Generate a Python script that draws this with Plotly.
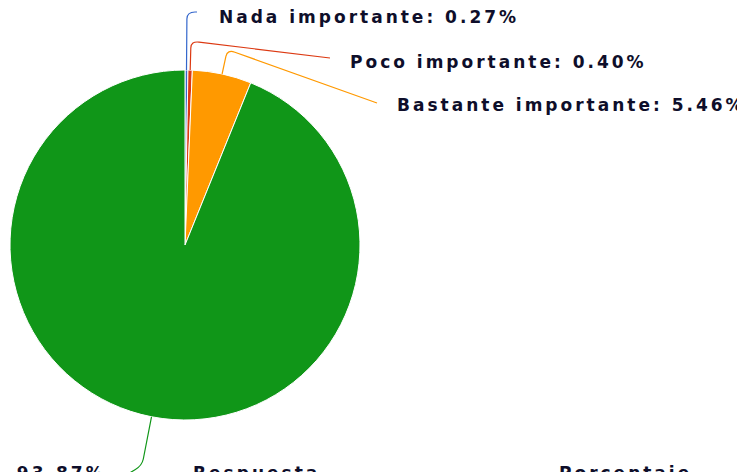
import math
import plotly.graph_objects as go

# ---- data ----
labels = ["Nada importante", "Poco importante", "Bastante importante", "Muy importante"]
percent = [0.27, 0.40, 5.46, 93.87]
colors = ["#3366cc", "#dc3912", "#ff9900", "#109618"]
header_labels = ["Respuesta", "Porcentaje"]

WIN_W, WIN_H = 745, 472
OFF = 8                      # page body margin of the browser
W, H = WIN_W - OFF, WIN_H - OFF

# pie geometry, in window pixels
cx, cy, R = 185.0, 245.0, 175.0

# label layout: (radial extension of leader, leader end point, text x, text y, anchor)
label_layout = [
    (58, (197, 12), 217, 17, "left"),
    (29, (330, 58), 348, 62, "left"),
    (25, (377, 103), 395, 105, "left"),
    (50, (114, 482), 108, 473, "right"),
]
header_x = [191, 557]
header_y = 473

def px(x):
    return x - OFF

def py(y):
    return y - OFF

def paper_x(x):
    return px(x) / W

def paper_y(y):
    return (H - py(y)) / H

fig = go.Figure()
fig.add_trace(go.Pie(
    labels=labels, values=percent, sort=False, direction="clockwise",
    rotation=0, marker=dict(colors=colors, line=dict(color="white", width=1)),
    textinfo="none", hoverinfo="label+percent", showlegend=False,
    domain=dict(x=[paper_x(cx - R), paper_x(cx + R)],
                y=[paper_y(cy + R), paper_y(cy - R)]),
))

font = dict(family="DejaVu Sans", size=17, color="#0e0e2a")
shapes = []
annotations = []
cum = 0.0
total = sum(percent)
for lab, p, col, (ext, pend, tx, ty, xa) in zip(labels, percent, colors, label_layout):
    mid = (cum + p / 2) / total * 2 * math.pi
    cum += p
    ux, uy = math.sin(mid), -math.cos(mid)
    p0 = (cx + R * ux, cy + R * uy)
    p1 = (cx + (R + ext - 7) * ux, cy + (R + ext - 7) * uy)
    pc = (cx + (R + ext) * ux, cy + (R + ext) * uy)
    dx, dy = pend[0] - pc[0], pend[1] - pc[1]
    d = math.hypot(dx, dy) or 1
    p2 = (pc[0] + 8 * dx / d, pc[1] + 8 * dy / d)
    path = (f"M {px(p0[0]):.1f},{py(p0[1]):.1f} L {px(p1[0]):.1f},{py(p1[1]):.1f} "
            f"Q {px(pc[0]):.1f},{py(pc[1]):.1f} {px(p2[0]):.1f},{py(p2[1]):.1f} "
            f"L {px(pend[0])},{py(pend[1])}")
    shapes.append(dict(type="path", path=path, xref="x", yref="y",
                       line=dict(color=col, width=1.2), layer="above"))
    annotations.append(dict(x=paper_x(tx), y=paper_y(ty), xref="paper", yref="paper",
                            text=f"<b>{lab}: {p:.2f}%</b>", showarrow=False,
                            xanchor=xa, align=xa, yanchor="middle", font=font))

for hl, hx in zip(header_labels, header_x):
    annotations.append(dict(x=paper_x(hx), y=paper_y(header_y), xref="paper", yref="paper",
                            text=f"<b>{hl}</b>", showarrow=False, xanchor="left",
                            align="left", yanchor="middle", font=font))

fig.update_layout(
    width=W, height=H, margin=dict(l=0, r=0, t=0, b=0),
    paper_bgcolor="white", plot_bgcolor="white",
    xaxis=dict(range=[0, W], visible=False, fixedrange=True),
    yaxis=dict(range=[H, 0], visible=False, fixedrange=True),
    shapes=shapes, annotations=annotations,
)

post = """
var gd = document.getElementById('{plot_id}');
function spacing(){
  gd.querySelectorAll('.annotation-text').forEach(function(t){ t.style.letterSpacing = '3px'; });
}
spacing();
gd.on('plotly_afterplot', spacing);
"""
fig.write_html("out.html", post_script=post)
